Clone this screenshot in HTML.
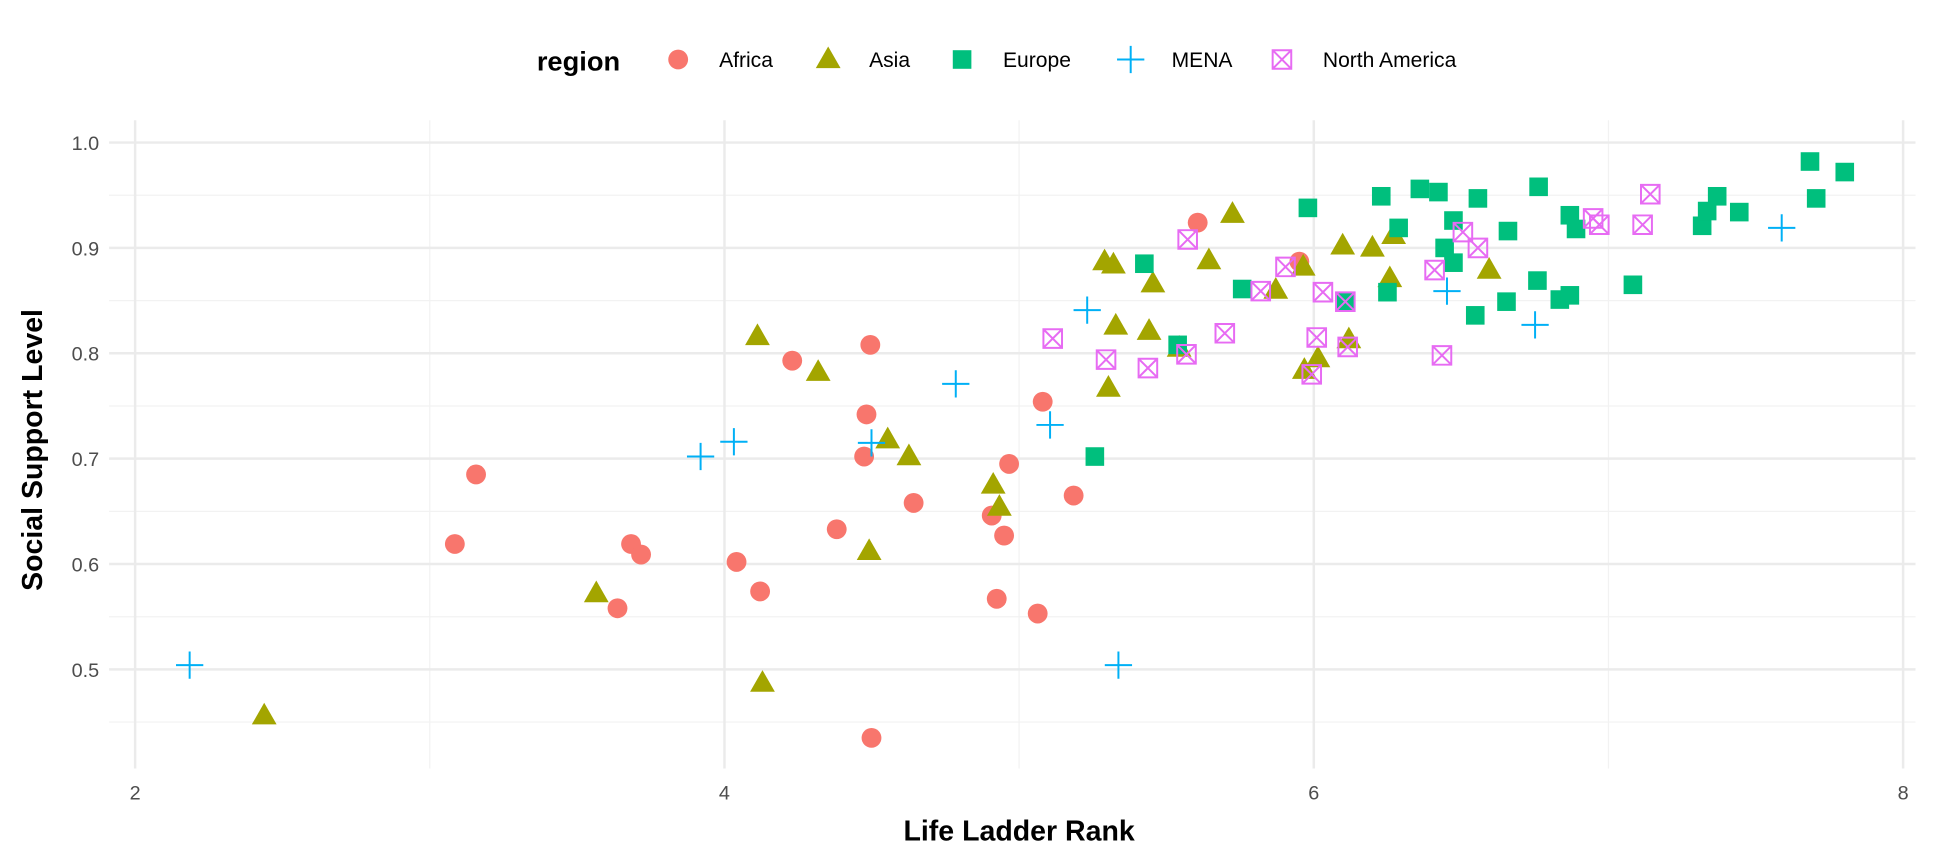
<!DOCTYPE html>
<html><head><meta charset="utf-8"><style>
body{margin:0;background:#fff;}
svg{display:block;font-family:"Liberation Sans",Arial,sans-serif;}
</style></head><body>
<svg id="chart" width="1944" height="864" viewBox="0 0 1568 697" preserveAspectRatio="none">
<g id="grid"></g>
<g id="axes"></g>
<g id="marks"></g>
<g id="legend"></g>
<text x="822" y="678" font-size="23" font-weight="bold" text-anchor="middle" fill="#000">Life Ladder Rank</text>
<text transform="translate(34,363) rotate(-90)" font-size="23" font-weight="bold" text-anchor="middle" fill="#000">Social Support Level</text>
</svg>
<script>
const xTicks=[2,4,6,8];
const yTicks=[0.5,0.6,0.7,0.8,0.9,1.0];
const yTickLabels=["0.5","0.6","0.7","0.8","0.9","1.0"];
const regions=["Africa","Asia","Europe","MENA","North America"];
const africaX=[3.085,3.157,3.637,3.683,3.717,4.041,4.121,4.230,4.381,4.474,4.482,4.495,4.499,4.642,4.907,4.924,4.949,4.966,5.063,5.080,5.185,5.606,5.951];
const africaY=[0.619,0.685,0.558,0.619,0.609,0.602,0.574,0.793,0.633,0.702,0.742,0.808,0.435,0.658,0.646,0.567,0.627,0.695,0.553,0.754,0.665,0.924,0.887];
const asiaX=[2.438,3.565,4.112,4.129,4.318,4.491,4.554,4.626,4.912,4.933,5.290,5.320,5.303,5.328,5.454,5.441,5.543,5.644,5.724,5.871,5.968,5.964,6.014,6.098,6.119,6.199,6.271,6.258,6.595];
const asiaY=[0.456,0.572,0.816,0.487,0.782,0.612,0.718,0.702,0.675,0.654,0.887,0.884,0.767,0.826,0.866,0.821,0.805,0.888,0.932,0.860,0.784,0.882,0.795,0.902,0.813,0.900,0.912,0.871,0.879];
const europeX=[5.425,5.257,5.538,5.757,5.980,6.107,6.229,6.250,6.288,6.360,6.423,6.474,6.444,6.474,6.557,6.548,6.654,6.659,6.763,6.759,6.835,6.869,6.869,6.890,7.083,7.318,7.335,7.369,7.444,7.684,7.705,7.802];
const europeY=[0.885,0.702,0.808,0.861,0.938,0.849,0.949,0.858,0.919,0.956,0.953,0.926,0.900,0.886,0.947,0.836,0.849,0.916,0.958,0.869,0.851,0.931,0.855,0.918,0.865,0.921,0.935,0.949,0.934,0.982,0.947,0.972];
const menaX=[2.185,3.919,4.032,4.499,4.785,5.105,5.231,5.337,6.452,6.751,7.588];
const menaY=[0.504,0.702,0.716,0.715,0.771,0.732,0.841,0.504,0.859,0.827,0.919];
const naX=[5.114,5.295,5.437,5.568,5.572,5.698,5.820,5.904,5.993,6.010,6.031,6.107,6.115,6.410,6.435,6.506,6.557,6.948,6.969,7.116,7.142];
const naY=[0.814,0.794,0.786,0.799,0.908,0.819,0.859,0.882,0.780,0.815,0.858,0.849,0.806,0.879,0.798,0.915,0.900,0.928,0.922,0.922,0.951];

const NS="http://www.w3.org/2000/svg";
const L=88,R=1545,T=97,B=620;
function sx(v){return 109+(v-2)*237.67;}
function sy(v){return 115+(1-v)*850;}
function mk(tag,attrs,parent){const e=document.createElementNS(NS,tag);for(const k in attrs)e.setAttribute(k,attrs[k]);parent.appendChild(e);return e;}
const grid=document.getElementById('grid'),axes=document.getElementById('axes'),marks=document.getElementById('marks'),legend=document.getElementById('legend');
for(let i=0;i<xTicks.length-1;i++){const v=(xTicks[i]+xTicks[i+1])/2;const l=mk('line',{x1:sx(v),x2:sx(v),y1:T,y2:B,stroke:'#f2f2f2','stroke-width':1},grid);

}
for(let v=0.45;v<1.0;v+=0.1){const l=mk('line',{x1:L,x2:R,y1:sy(v),y2:sy(v),stroke:'#f2f2f2','stroke-width':1},grid);

}
xTicks.forEach(v=>{const l=mk('line',{x1:sx(v),x2:sx(v),y1:T,y2:B,stroke:'#ebebeb','stroke-width':2},grid);


const t=mk('text',{x:sx(v),y:645,'font-size':16,fill:'#4d4d4d','text-anchor':'middle'},axes);t.textContent=v;

});
yTicks.forEach((v,i)=>{const l=mk('line',{x1:L,x2:R,y1:sy(v),y2:sy(v),stroke:'#ebebeb','stroke-width':2},grid);


const t=mk('text',{x:80,y:sy(v)+6,'font-size':16,fill:'#4d4d4d','text-anchor':'end'},axes);t.textContent=yTickLabels[i];

});

const colors=['#F8766D','#A3A500','#00BF7D','#00B0F6','#E76BF3'];
function shape(k,x,y,parent){
  const c=colors[k];
  if(k===0)return mk('circle',{cx:x,cy:y,r:8,fill:c},parent);
  if(k===1)return mk('polygon',{points:`${x},${y-10.5} ${x+10},${y+7} ${x-10},${y+7}`,fill:c},parent);
  if(k===2)return mk('rect',{x:x-7.5,y:y-7.5,width:15,height:15,fill:c},parent);
  if(k===3)return mk('path',{d:`M${x-11},${y}H${x+11}M${x},${y-11}V${y+11}`,stroke:c,'stroke-width':1.6,fill:'none'},parent);
  return mk('path',{d:`M${x-7.5},${y-7.5}h15v15h-15zM${x-7.5},${y-7.5}L${x+7.5},${y+7.5}M${x+7.5},${y-7.5}L${x-7.5},${y+7.5}`,stroke:c,'stroke-width':1.6,fill:'none'},parent);
}
const series=[[africaX,africaY],[asiaX,asiaY],[europeX,europeY],[menaX,menaY],[naX,naY]];
const pnames=['point-africa','point-asia','point-europe','point-mena','point-north-america'];
series.forEach((s,k)=>{s[0].forEach((xv,i)=>{const e=shape(k,sx(xv),sy(s[1][i]),marks);

});});

const lt=mk('text',{x:433,y:57,'font-size':22,'font-weight':'bold',fill:'#000'},legend);lt.textContent='region';


const lx=[547,668,776,912,1034];
regions.forEach((r,k)=>{const g=mk('g',{},legend);


shape(k,lx[k],48,g);
const t=mk('text',{x:lx[k]+33,y:54,'font-size':17,fill:'#000'},g);t.textContent=r;});
</script>
</body></html>
